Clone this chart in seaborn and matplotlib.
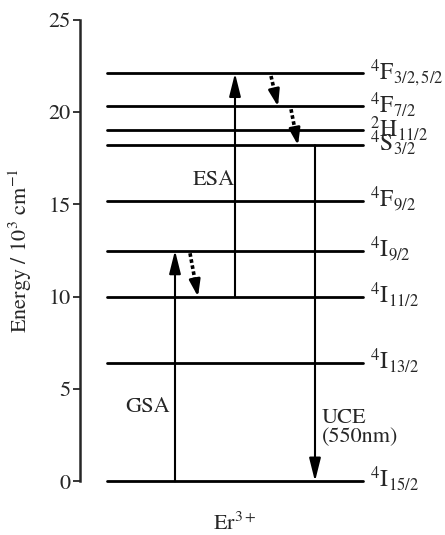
import numpy as np
import pandas as pd
import seaborn as sns
import matplotlib.pyplot as plt

# Er3+ energy levels (10^3 cm^-1)
levels = [0.0, 6.4, 10.0, 12.5, 15.2, 18.2, 19.0, 20.3, 22.1]
level_names = [r'$^4\mathrm{I}_{15/2}$', r'$^4\mathrm{I}_{13/2}$', r'$^4\mathrm{I}_{11/2}$',
               r'$^4\mathrm{I}_{9/2}$', r'$^4\mathrm{F}_{9/2}$', r'$^4\mathrm{S}_{3/2}$',
               r'$^2\mathrm{H}_{11/2}$', r'$^4\mathrm{F}_{7/2}$', r'$^4\mathrm{F}_{3/2,5/2}$']

# transitions: (from, to)
gsa = (0.0, 12.5)
esa = (10.0, 22.1)
uce = (18.2, 0.0)
relax = [(12.5, 10.0), (22.1, 20.3), (20.3, 18.2)]

sns.set_style("ticks")
plt.rcParams['font.family'] = ['STIXGeneral', 'DejaVu Serif']
plt.rcParams['mathtext.fontset'] = 'stix'

fig = plt.figure(figsize=(4.45, 5.35), dpi=100)
ax = fig.add_axes([80 / 445, 53.7 / 535, 365 / 445, 461.6 / 535])

x0, x1 = 27, 283
df = pd.DataFrame({
    'x': [x0, x1] * len(levels),
    'E': np.repeat(levels, 2),
    'name': np.repeat(level_names, 2),
})
sns.lineplot(data=df, x='x', y='E', units='name', estimator=None, color='black',
             lw=2.0, ax=ax, legend=False, clip_on=False)

for e, name in zip(levels, level_names):
    ax.text(290, e - 0.33, name, fontsize=17, va='baseline', ha='left')

solid = dict(arrowstyle='-|>,head_length=1.0,head_width=0.25', color='black', lw=1.5,
             shrinkA=0, shrinkB=0, mutation_scale=14)
ax.annotate('', xy=(95, gsa[1]), xytext=(95, gsa[0]), arrowprops=solid)
ax.annotate('', xy=(155, esa[1]), xytext=(155, esa[0]), arrowprops=solid)
ax.annotate('', xy=(235, uce[1]), xytext=(235, uce[0]), arrowprops=solid)

# dotted relaxation arrows: dashed shaft + solid head
for (hi, lo), (xa, xb) in zip(relax, [(110, 118), (191, 198), (211, 218)]):
    frac = 0.62
    xm = xa + (xb - xa) * frac
    ym = (hi - 0.15) + (lo - hi + 0.15) * frac
    ax.plot([xa, xm], [hi - 0.15, ym], color='black', lw=2.6, ls=(0, (1.0, 0.7)))
    ax.annotate('', xy=(xb, lo), xytext=(xm, ym),
                arrowprops=dict(arrowstyle='-|>,head_length=0.9,head_width=0.3',
                                color='black', lw=2.0, shrinkA=0, shrinkB=0,
                                mutation_scale=11))

ax.text(45, 4.0, 'GSA', fontsize=16, ha='left', va='center')
ax.text(113, 16.3, 'ESA', fontsize=16, ha='left', va='center')
ax.text(242, 2.9, 'UCE\n(550nm)', fontsize=16, ha='left', va='center', linespacing=1.0)
ax.text(155, -2.3, r'Er$^{3+}$', fontsize=16, ha='center', va='center')

ax.set_xlim(0, 365)
ax.set_ylim(0, 25)
ax.set_yticks([0, 5, 10, 15, 20, 25])
ax.set_xticks([])
ax.set_xlabel('')
ax.set_ylabel(r'Energy / 10$^3$ cm$^{-1}$', fontsize=16)
ax.yaxis.set_label_coords(-0.125, 0.5)
ax.tick_params(axis='y', direction='out', length=5, width=1.3, labelsize=16, pad=2)
sns.despine(ax=ax, bottom=True)
ax.spines['left'].set_linewidth(1.8)

fig.savefig('out.png', dpi=100)
